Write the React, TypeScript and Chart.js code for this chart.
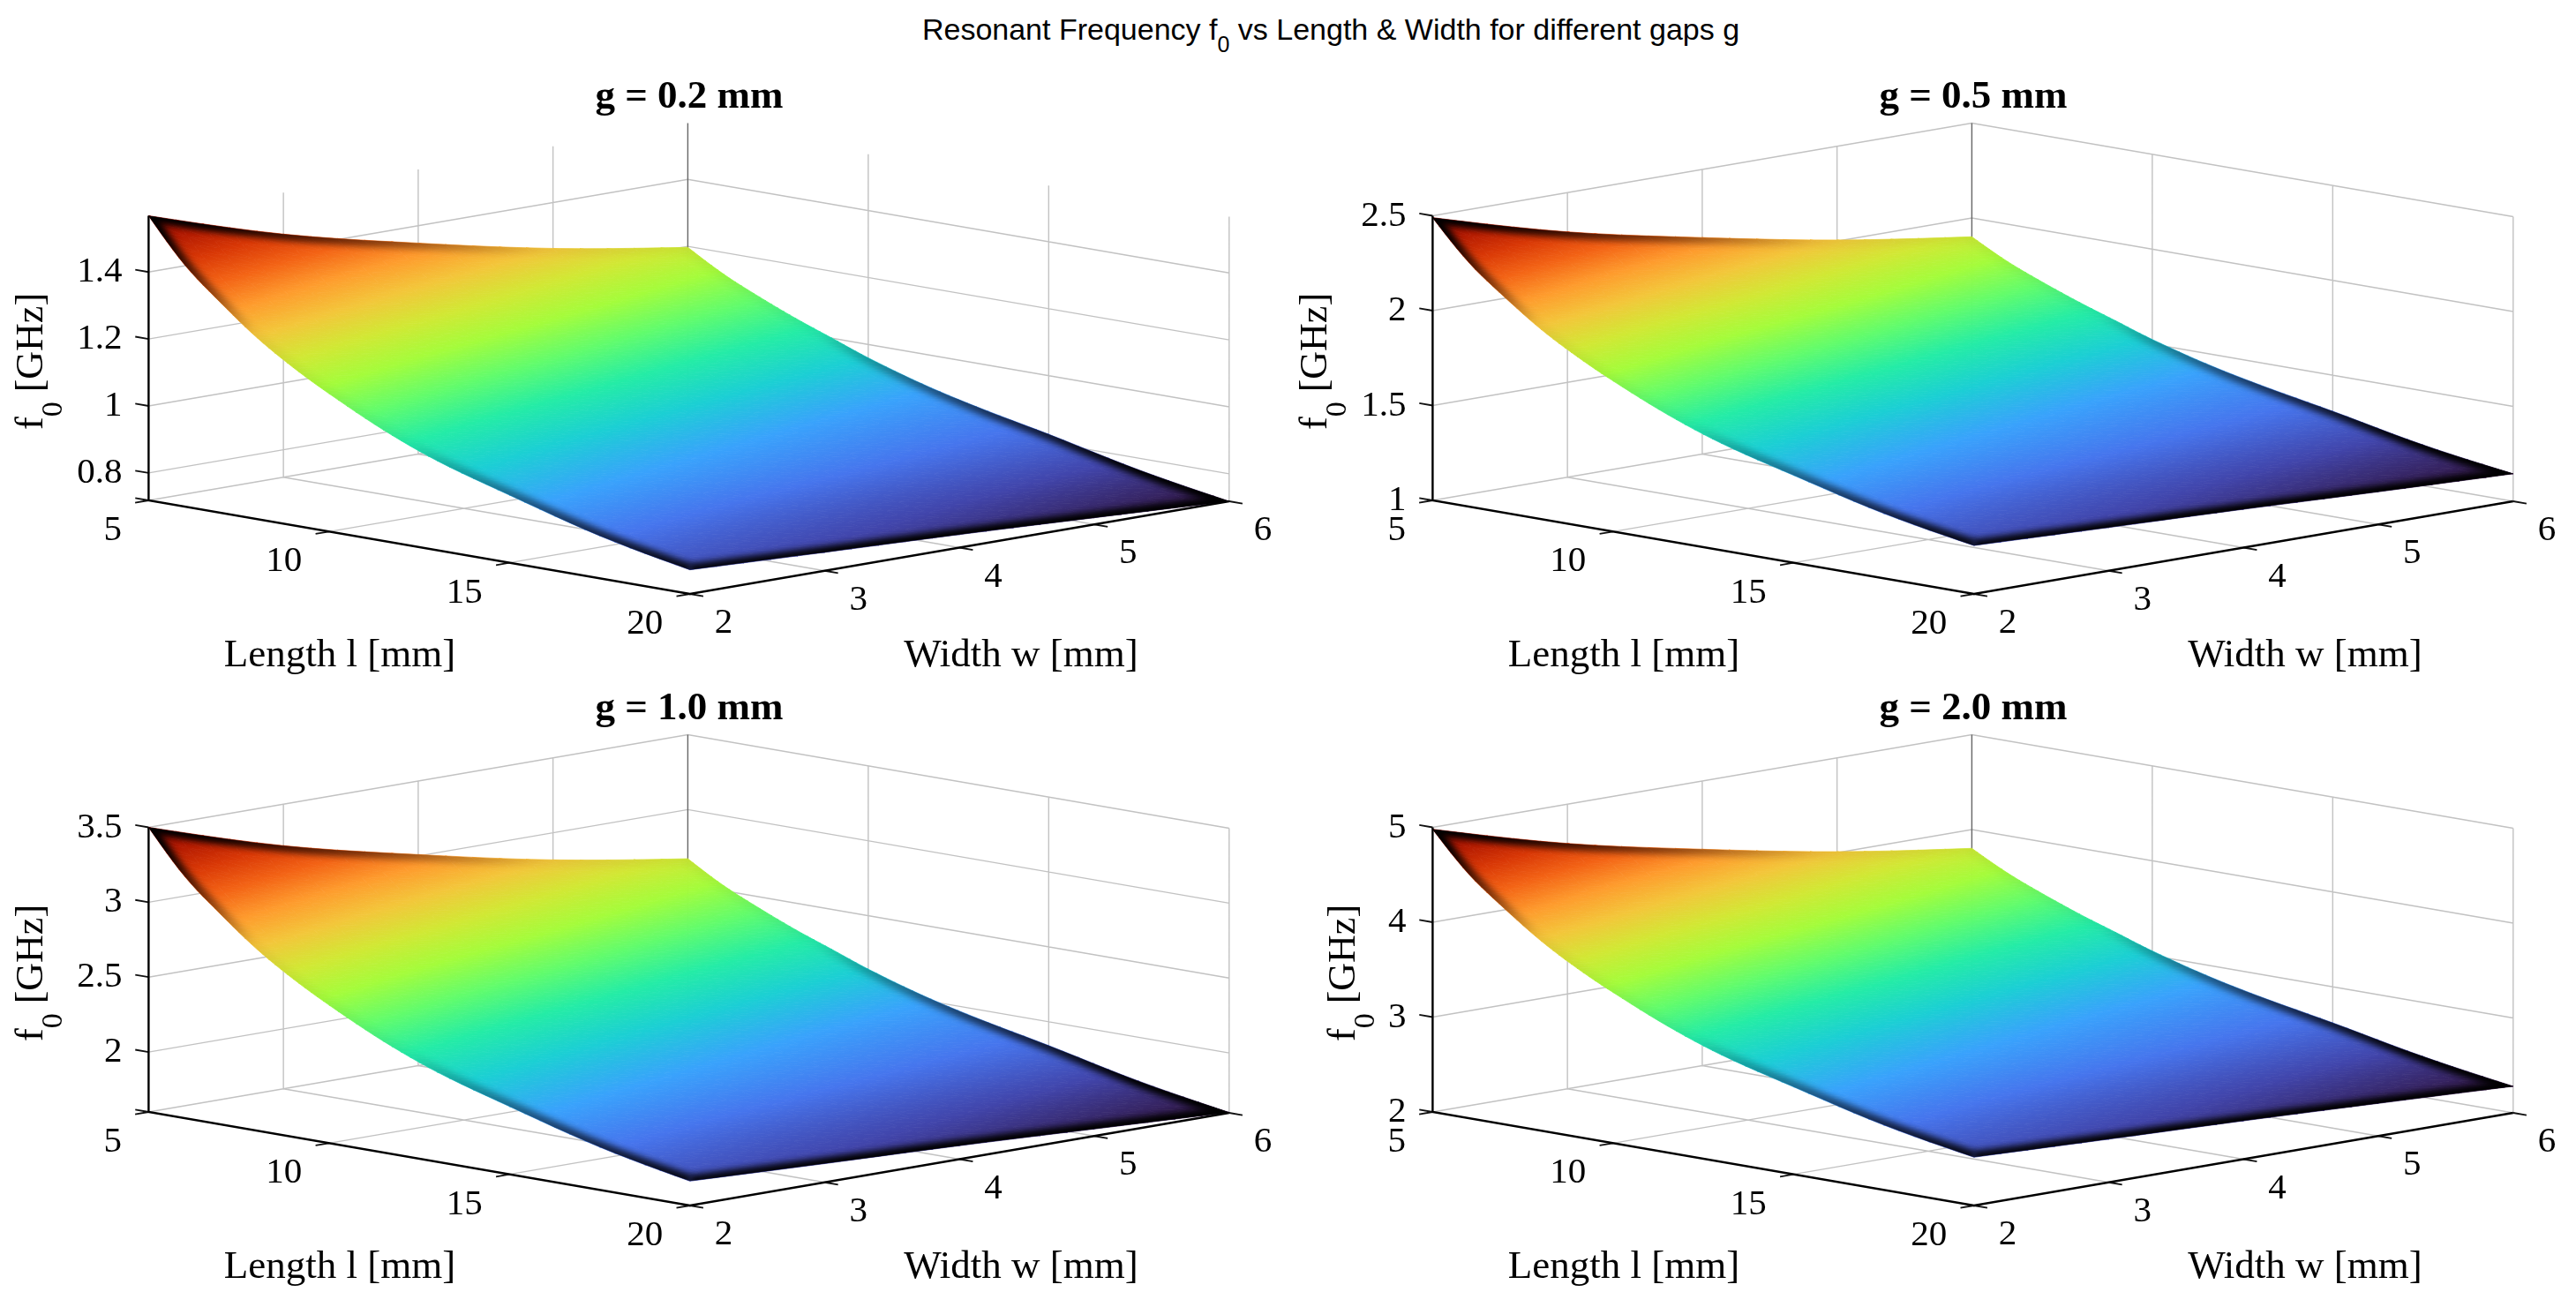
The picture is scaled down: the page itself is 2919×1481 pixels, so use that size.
import React, { useEffect, useRef } from 'react';
import { Chart, registerables } from 'chart.js';

Chart.register(...registerables);

// sweep grid
const LENGTHS = [5, 6, 7, 8, 9, 10, 11.5, 13, 15, 17.5, 20];
const WIDTHS = [2, 3, 4, 5, 6];

// f0 in GHz, one row per length, one column per width
const F0_G02 = [
  [1.568, 1.444, 1.348, 1.263, 1.197],
  [1.44, 1.338, 1.26, 1.191, 1.135],
  [1.345, 1.259, 1.193, 1.134, 1.085],
  [1.26, 1.187, 1.131, 1.081, 1.04],
  [1.19, 1.127, 1.079, 1.035, 1.0],
  [1.13, 1.075, 1.032, 0.992, 0.96],
  [1.05, 1.005, 0.969, 0.937, 0.91],
  [0.985, 0.948, 0.919, 0.892, 0.87],
  [0.92, 0.89, 0.866, 0.844, 0.825],
  [0.845, 0.82, 0.8, 0.782, 0.765],
  [0.79, 0.773, 0.757, 0.738, 0.718],
];
const F0_G05 = [
  [2.49, 2.293, 2.141, 2.006, 1.901],
  [2.287, 2.125, 2.001, 1.891, 1.802],
  [2.136, 1.999, 1.895, 1.801, 1.723],
  [2.001, 1.885, 1.796, 1.717, 1.652],
  [1.89, 1.79, 1.713, 1.644, 1.588],
  [1.794, 1.707, 1.639, 1.575, 1.524],
  [1.667, 1.596, 1.539, 1.488, 1.445],
  [1.564, 1.505, 1.459, 1.417, 1.382],
  [1.461, 1.413, 1.375, 1.34, 1.31],
  [1.342, 1.302, 1.27, 1.242, 1.215],
  [1.255, 1.228, 1.202, 1.172, 1.145],
];
const F0_G10 = [
  [3.5, 3.223, 3.009, 2.819, 2.672],
  [3.214, 2.986, 2.812, 2.658, 2.533],
  [3.002, 2.81, 2.663, 2.531, 2.422],
  [2.812, 2.649, 2.524, 2.413, 2.321],
  [2.656, 2.515, 2.408, 2.31, 2.232],
  [2.522, 2.399, 2.303, 2.214, 2.143],
  [2.344, 2.243, 2.163, 2.091, 2.031],
  [2.199, 2.116, 2.051, 1.991, 1.942],
  [2.053, 1.986, 1.933, 1.884, 1.841],
  [1.886, 1.83, 1.786, 1.745, 1.707],
  [1.763, 1.725, 1.69, 1.647, 1.603],
];
const F0_G20 = [
  [4.98, 4.586, 4.281, 4.011, 3.802],
  [4.573, 4.249, 4.002, 3.783, 3.605],
  [4.272, 3.999, 3.789, 3.602, 3.446],
  [4.002, 3.77, 3.592, 3.433, 3.303],
  [3.779, 3.579, 3.427, 3.287, 3.176],
  [3.589, 3.414, 3.278, 3.151, 3.049],
  [3.335, 3.192, 3.078, 2.976, 2.89],
  [3.128, 3.011, 2.919, 2.833, 2.763],
  [2.922, 2.827, 2.75, 2.681, 2.62],
  [2.684, 2.604, 2.541, 2.484, 2.43],
  [2.509, 2.455, 2.404, 2.344, 2.28],
];

const L_TICKS = [5, 10, 15, 20];
const W_TICKS = [2, 3, 4, 5, 6];
const Z_TICKS_G02 = [0.8, 1, 1.2, 1.4];
const Z_TICKS_G05 = [1, 1.5, 2, 2.5];
const Z_TICKS_G10 = [2, 2.5, 3, 3.5];
const Z_TICKS_G20 = [2, 3, 4, 5];

// turbo colormap
const TURBO = [
  '#30123b', '#4145ab', '#4675ed', '#39a2fc', '#1bcfd4', '#24eca6', '#61fc6c', '#a4fc3b',
  '#d1e834', '#f3c63a', '#fe9b2d', '#f36315', '#d93806', '#b11901', '#7a0403',
];

const SERIF = '"Liberation Serif", "Times New Roman", serif';
const CANVAS_W = 1562;
const CANVAS_H = 715;
const CANVAS_TOP = 70;
const TITLE_PAD_TOP = 13;
const TITLE_SIZE = 45;
const AREA_TOP = TITLE_PAD_TOP + TITLE_SIZE * 1.2;

interface PanelProps {
  title: string;
  f0: number[][];
  zTicks: number[];
  zLim: [number, number];
  dx: number;
  dy: number;
  labelShift: number;
}

// orthographic view, all panels share the same camera
const makeProjection = (p: PanelProps) => (l: number, w: number, z: number) => ({
  x: p.dx + 168.4 + ((l - 5) / 15) * 613.4 + ((w - 2) / 4) * 611,
  y: p.dy + 567 + ((l - 5) / 15) * 106 - ((w - 2) / 4) * 105 - ((z - p.zLim[0]) / (p.zLim[1] - p.zLim[0])) * 322.5,
});

const GAP = { x: NaN, y: NaN };

// curve through the table rows so the sheet renders smooth, like a line's tension does
function smoothRun(xs: number[], ys: number[], sub: number) {
  const n = xs.length;
  const slope = (i: number) => (ys[i + 1] - ys[i]) / (xs[i + 1] - xs[i]);
  const m = xs.map((_, i) => (i > 0 && i < n - 1 ? (ys[i + 1] - ys[i - 1]) / (xs[i + 1] - xs[i - 1]) : 0));
  m[0] = (3 * slope(0) - m[1]) / 2;
  m[n - 1] = (3 * slope(n - 2) - m[n - 2]) / 2;
  const out: number[] = [];
  for (let i = 0; i < n - 1; i++) {
    const h = xs[i + 1] - xs[i];
    for (let k = 0; k < sub; k++) {
      const t = k / sub;
      const t2 = t * t;
      const t3 = t2 * t;
      out.push(
        (2 * t3 - 3 * t2 + 1) * ys[i] + (t3 - 2 * t2 + t) * h * m[i] + (-2 * t3 + 3 * t2) * ys[i + 1] + (t3 - t2) * h * m[i + 1],
      );
    }
  }
  out.push(ys[n - 1]);
  return out;
}

function smoothGrid(table: number[][], subL: number, subW: number) {
  const cols = WIDTHS.map((_, j) => smoothRun(LENGTHS, table.map((r) => r[j]), subL));
  return cols[0].map((_, i) => smoothRun(WIDTHS, cols.map((c) => c[i]), subW));
}

function fillTriangle(ctx: CanvasRenderingContext2D, a: any, b: any, c: any, zMin: number, zMax: number) {
  const det = (b.x - a.x) * (c.y - a.y) - (c.x - a.x) * (b.y - a.y);
  if (Math.abs(det) < 1e-6) return;
  const gx = ((b.z - a.z) * (c.y - a.y) - (c.z - a.z) * (b.y - a.y)) / det;
  const gy = ((c.z - a.z) * (b.x - a.x) - (b.z - a.z) * (c.x - a.x)) / det;
  const g2 = gx * gx + gy * gy;
  const grad = ctx.createLinearGradient(
    a.x + (gx * (zMin - a.z)) / g2,
    a.y + (gy * (zMin - a.z)) / g2,
    a.x + (gx * (zMax - a.z)) / g2,
    a.y + (gy * (zMax - a.z)) / g2,
  );
  TURBO.forEach((col, i) => grad.addColorStop(i / (TURBO.length - 1), col));
  ctx.fillStyle = grad;
  ctx.strokeStyle = grad;
  ctx.beginPath();
  ctx.moveTo(a.x, a.y);
  ctx.lineTo(b.x, b.y);
  ctx.lineTo(c.x, c.y);
  ctx.closePath();
  ctx.fill();
  ctx.stroke();
}

// how dark the rim of the surface gets, strongest at both ends of the colour range
const rimAlpha = (n: number) => {
  const d = Math.abs(2 * n - 1);
  return Math.min(1, 0.03 + 1.15 * Math.max(0, (d - 0.3) / 0.7));
};

const surfacePlugin = {
  id: 'surface',
  afterDatasetDraw(chart: any, args: any, opts: any) {
    if (chart.data.datasets[args.index].label !== 'surface') return;
    const { f0 } = opts;
    const pts = chart.getDatasetMeta(args.index).data;
    const nw = WIDTHS.length;
    const table = (key: 'x' | 'y') => LENGTHS.map((_, i) => WIDTHS.map((_w, j) => pts[i * nw + j][key]));
    const X = smoothGrid(table('x'), 6, 5);
    const Y = smoothGrid(table('y'), 6, 5);
    const Z = smoothGrid(f0, 6, 5);
    const at = (i: number, j: number) => ({ x: X[i][j], y: Y[i][j], z: Z[i][j] });
    const ni = Z.length;
    const nj = Z[0].length;
    const zs = f0.flat();
    const zMin = Math.min(...zs);
    const zMax = Math.max(...zs);
    const ctx = chart.ctx;
    ctx.save();
    ctx.lineWidth = 0.8;
    for (let i = 0; i < ni - 1; i++) {
      for (let j = 0; j < nj - 1; j++) {
        fillTriangle(ctx, at(i, j), at(i + 1, j), at(i + 1, j + 1), zMin, zMax);
        fillTriangle(ctx, at(i, j), at(i + 1, j + 1), at(i, j + 1), zMin, zMax);
      }
    }
    // the four edges of the sheet, walked round
    const edges: { x: number; y: number; z: number }[][] = [[], [], [], []];
    for (let j = 0; j < nj; j++) edges[0].push(at(0, j));
    for (let i = 0; i < ni; i++) edges[1].push(at(i, nj - 1));
    for (let j = nj - 1; j >= 0; j--) edges[2].push(at(ni - 1, j));
    for (let i = ni - 1; i >= 0; i--) edges[3].push(at(i, 0));
    ctx.beginPath();
    edges.flat().forEach((p, k) => (k ? ctx.lineTo(p.x, p.y) : ctx.moveTo(p.x, p.y)));
    ctx.closePath();
    ctx.clip();
    ctx.filter = 'blur(3.5px)';
    ctx.lineWidth = 14;
    edges.forEach((edge) => {
      const a = edge[0];
      const b = edge[edge.length - 1];
      const len2 = (b.x - a.x) ** 2 + (b.y - a.y) ** 2;
      const grad = ctx.createLinearGradient(a.x, a.y, b.x, b.y);
      edge.forEach((p) => {
        const t = ((p.x - a.x) * (b.x - a.x) + (p.y - a.y) * (b.y - a.y)) / len2;
        grad.addColorStop(Math.min(1, Math.max(0, t)), `rgba(0,0,0,${rimAlpha((p.z - zMin) / (zMax - zMin))})`);
      });
      ctx.strokeStyle = grad;
      ctx.beginPath();
      edge.forEach((p, k) => (k ? ctx.lineTo(p.x, p.y) : ctx.moveTo(p.x, p.y)));
      ctx.stroke();
    });
    ctx.restore();
  },
};

const axisTextPlugin = {
  id: 'axisText',
  afterDraw(chart: any, _args: any, opts: any) {
    const { panel } = opts;
    const project = makeProjection(panel);
    const zMin = panel.zLim[0];
    const px = (pt: { x: number; y: number }) => ({
      x: chart.scales.x.getPixelForValue(pt.x),
      y: chart.scales.y.getPixelForValue(pt.y),
    });
    const ctx = chart.ctx;
    ctx.save();
    ctx.fillStyle = '#000';
    ctx.textBaseline = 'alphabetic';
    ctx.font = `41px ${SERIF}`;
    ctx.textAlign = 'right';
    panel.zTicks.forEach((z: number) => {
      const p = px(project(5, 2, z));
      ctx.fillText(String(z), p.x - 30, p.y + 11);
    });
    L_TICKS.forEach((l) => {
      const p = px(project(l, 2, zMin));
      ctx.fillText(String(l), p.x - 30.5, p.y + 45);
    });
    ctx.textAlign = 'left';
    W_TICKS.forEach((w) => {
      const p = px(project(20, w, zMin));
      ctx.fillText(String(w), p.x + 28, p.y + 44);
    });
    // axis names stay level in this view
    const base = px({ x: panel.dx, y: panel.dy });
    ctx.font = `45px ${SERIF}`;
    ctx.textAlign = 'center';
    ctx.fillText('Length l [mm]', base.x + 385, base.y + 755);
    ctx.fillText('Width w [mm]', base.x + 1157, base.y + 755);
    ctx.translate(base.x + 48 + panel.labelShift, base.y + 487);
    ctx.rotate(-Math.PI / 2);
    ctx.textAlign = 'left';
    ctx.font = `44px ${SERIF}`;
    ctx.fillText('f', 0, 0);
    let cursor = ctx.measureText('f').width;
    ctx.font = `34px ${SERIF}`;
    ctx.fillText('0', cursor, 22);
    cursor += ctx.measureText('0').width;
    ctx.font = `44px ${SERIF}`;
    ctx.fillText(' [GHz]', cursor, 0);
    ctx.restore();
  },
};

const SurfacePanel: React.FC<PanelProps> = (panel) => {
  const chartRef = useRef<HTMLCanvasElement>(null);
  const chartInstance = useRef<Chart | null>(null);

  useEffect(() => {
    if (!chartRef.current) return;
    const { dx, dy, zLim, zTicks, f0, title } = panel;
    const top = dy + CANVAS_TOP;
    const project = makeProjection(panel);
    const [zMin, zMax] = zLim;

    const surface = LENGTHS.flatMap((l, i) => WIDTHS.map((w, j) => project(l, w, f0[i][j])));

    const grid: { x: number; y: number }[] = [];
    zTicks.concat(zMin).forEach((z) => {
      grid.push(project(5, 2, z), project(5, 6, z), project(20, 6, z), GAP);
    });
    [3, 4, 5].forEach((w) => grid.push(project(5, w, zMin), project(5, w, zMax), GAP));
    W_TICKS.slice(1, 4).forEach((w) => grid.push(project(5, w, zMin), project(20, w, zMin), GAP));
    [10, 15].forEach((l) => {
      grid.push(project(l, 2, zMin), project(l, 6, zMin), project(l, 6, zMax), GAP);
    });
    grid.push(project(20, 6, zMin), project(20, 6, zMax));

    const axes = [project(5, 2, zMax), project(5, 2, zMin), project(20, 2, zMin), project(20, 6, zMin)];
    const ticks: { x: number; y: number }[] = [];
    zTicks.concat(zMin).forEach((z) => ticks.push(project(5, 2, z), project(4.63, 2, z), GAP));
    L_TICKS.forEach((l) => ticks.push(project(l, 2, zMin), project(l, 1.9, zMin), GAP));
    W_TICKS.forEach((w) => ticks.push(project(20, w, zMin), project(20.37, w, zMin), GAP));

    const lineStyle = { showLine: true, pointRadius: 0, clip: false as any };

    chartInstance.current = new Chart(chartRef.current, {
      type: 'scatter',
      data: {
        datasets: [
          { label: 'axes', data: axes, borderColor: '#000', borderWidth: 2.4, order: 1, ...lineStyle },
          { label: 'ticks', data: ticks, borderColor: '#111', borderWidth: 1.8, order: 1, ...lineStyle },
          { label: 'surface', data: surface, pointRadius: 0, order: 2, clip: false as any },
          { label: 'back edge', data: [project(5, 6, zMin), project(5, 6, zMax)], borderColor: '#666', borderWidth: 1.4, order: 3, ...lineStyle },
          { label: 'grid', data: grid, borderColor: '#c2c2c2', borderWidth: 1.4, order: 4, ...lineStyle },
        ],
      },
      options: {
        responsive: false,
        animation: false,
        events: [],
        layout: { padding: 0 },
        scales: {
          x: { display: false, min: dx, max: dx + CANVAS_W },
          y: { display: false, reverse: true, min: top + AREA_TOP, max: top + CANVAS_H },
        },
        plugins: {
          legend: { display: false },
          tooltip: { enabled: false },
          title: {
            display: true,
            text: title,
            color: '#000',
            font: { family: SERIF, size: TITLE_SIZE, weight: 'bold', lineHeight: 1.2 },
            padding: { top: TITLE_PAD_TOP, bottom: 0 },
          },
          surface: { f0 },
          axisText: { panel },
        } as any,
      },
      plugins: [surfacePlugin, axisTextPlugin],
    });

    return () => {
      if (chartInstance.current) {
        chartInstance.current.destroy();
      }
    };
  }, []);

  return (
    <canvas
      ref={chartRef}
      width={CANVAS_W}
      height={CANVAS_H}
      style={{ position: 'absolute', left: panel.dx, top: panel.dy + CANVAS_TOP, width: CANVAS_W, height: CANVAS_H }}
    />
  );
};

export default function App() {
  return (
    <div style={{ position: 'absolute', left: 0, top: 0, width: 2919, height: 1481, overflow: 'hidden', background: '#fff' }}>
      <div
        style={{
          position: 'absolute',
          left: 1508,
          top: 9,
          transform: 'translateX(-50%)',
          whiteSpace: 'nowrap',
          font: '34px/48px "Liberation Sans", Arial, sans-serif',
          color: '#000',
        }}
      >
        Resonant Frequency f
        <span style={{ fontSize: 25, position: 'relative', top: 14 }}>0</span>
        {' '}vs Length &amp; Width for different gaps g
      </div>
      <SurfacePanel title="g = 0.2 mm" f0={F0_G02} zTicks={Z_TICKS_G02} zLim={[0.718, 1.568]} dx={0} dy={0} labelShift={0} />
      <SurfacePanel title="g = 0.5 mm" f0={F0_G05} zTicks={Z_TICKS_G05} zLim={[1, 2.5]} dx={1455} dy={0} labelShift={0} />
      <SurfacePanel title="g = 1.0 mm" f0={F0_G10} zTicks={Z_TICKS_G10} zLim={[1.6, 3.5]} dx={0} dy={693} labelShift={0} />
      <SurfacePanel title="g = 2.0 mm" f0={F0_G20} zTicks={Z_TICKS_G20} zLim={[2, 5]} dx={1455} dy={693} labelShift={32} />
    </div>
  );
}
